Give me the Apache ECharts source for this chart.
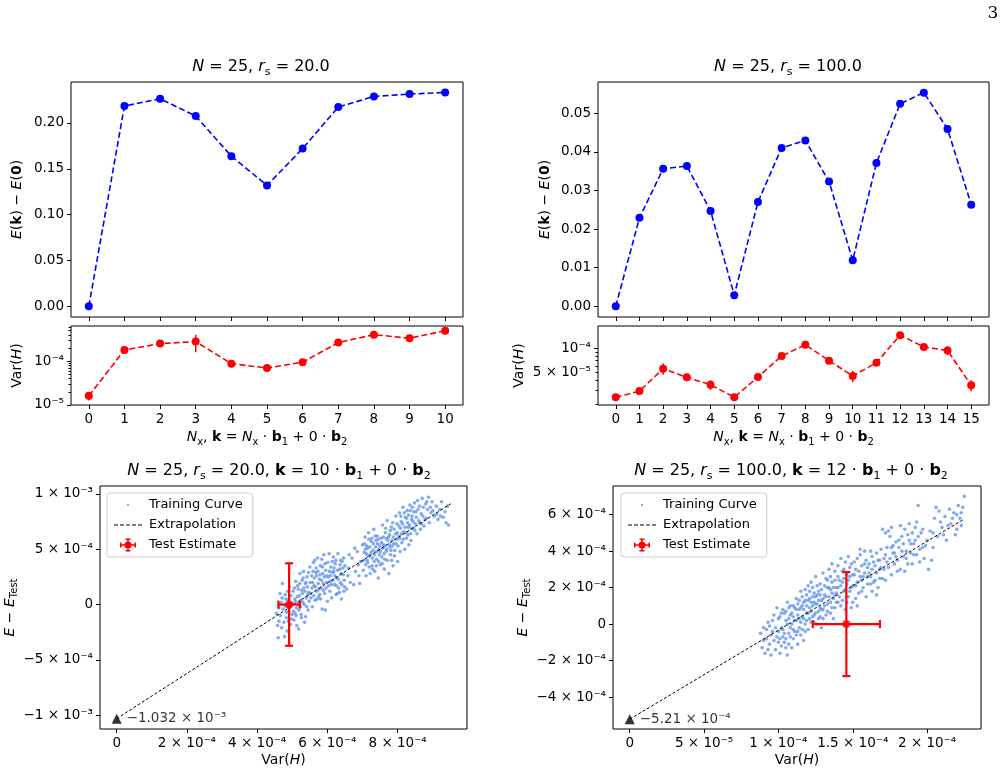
<!DOCTYPE html>
<html>
<head>
<meta charset="utf-8" />
<title>Excitation energies and variance extrapolation</title>
<script src="https://cdn.jsdelivr.net/npm/echarts@6.0.0/dist/echarts.min.js"></script>
<style>
  html, body { margin: 0; padding: 0; background: #fff; }
  #main { width: 1007px; height: 773px; }
</style>
</head>
<body>
<div id="main"></div>
<script type="text/javascript">
// ---------------- data ----------------
var kLeft = [0, 1, 2, 3, 4, 5, 6, 7, 8, 9, 10];
var gapLeft = [0, 0.2185, 0.2264, 0.2076, 0.1638, 0.1319, 0.1721, 0.2174, 0.2290, 0.2315, 0.2333];
var varLeft = [1.61e-5, 1.81e-4, 2.53e-4, 2.81e-4, 8.8e-5, 7.0e-5, 9.5e-5, 2.67e-4, 4.06e-4, 3.36e-4, 5.0e-4];
var varLeftErr = [0.35e-5, 1.0e-5, 1.5e-5, 1.2e-4, 0.5e-5, 0.4e-5, 0.5e-5, 1.8e-5, 2.5e-5, 2.2e-5, 3.2e-5];

var kRight = [0, 1, 2, 3, 4, 5, 6, 7, 8, 9, 10, 11, 12, 13, 14, 15];
var gapRight = [0, 0.0229, 0.0356, 0.0363, 0.0247, 0.0029, 0.0270, 0.0410, 0.0429, 0.0323, 0.0119, 0.0371, 0.0524, 0.0553, 0.0459, 0.0263];
var varRight = [2.43e-5, 2.91e-5, 5.55e-5, 4.32e-5, 3.49e-5, 2.43e-5, 4.36e-5, 8.0e-5, 1.11e-4, 7.0e-5, 4.49e-5, 6.6e-5, 1.46e-4, 1.04e-4, 9.4e-5, 3.43e-5];
var varRightErr = [0.15e-5, 0.2e-5, 0.9e-5, 0.3e-5, 0.5e-5, 0.15e-5, 0.4e-5, 0.5e-5, 0.8e-5, 0.6e-5, 0.72e-5, 0.4e-5, 0.8e-5, 0.5e-5, 1.2e-5, 0.54e-5];

// training curve samples, [Var(H), E - E_Test] in units of 1e-4
var trainLeft = [
  [4.55,-0.8],[4.6,-3.0],[4.62,-1.5],[4.68,0.2],[4.7,-2.1],[4.74,-0.4],[4.78,-2.9],[4.8,0.9],[4.83,-1.2],[4.85,-2.4],
  [4.88,0.4],[4.9,-0.6],[4.92,1.6],[4.95,-1.8],[4.97,0.1],[4.99,-0.9],[4.65,1.0],[4.72,1.9],[4.58,-1.9],[4.86,-0.2],
  [5.02,1.2],[5.05,-1.4],[5.07,0.5],[5.1,2.1],[5.12,-0.3],[5.15,1.7],[5.18,-2.2],[5.2,0.8],[5.22,2.8],[5.25,-0.9],
  [5.27,1.3],[5.3,0.2],[5.32,3.0],[5.35,-1.6],[5.37,1.9],[5.4,0.6],[5.42,2.5],[5.45,-0.5],[5.47,1.1],[5.5,3.4],
  [5.08,-0.8],[5.16,0.0],[5.28,2.2],[5.38,-1.1],[5.44,0.9],[5.13,-1.9],[5.33,1.5],[5.23,-0.2],
  [5.52,1.0],[5.55,2.6],[5.57,-0.2],[5.6,3.8],[5.62,1.7],[5.65,0.4],[5.67,2.9],[5.7,1.2],[5.72,4.2],[5.75,0.7],
  [5.77,2.3],[5.8,3.5],[5.82,1.5],[5.85,-0.4],[5.87,2.8],[5.9,4.5],[5.92,1.0],[5.95,3.1],[5.97,2.0],[6.0,0.3],
  [5.58,2.0],[5.68,3.3],[5.78,0.9],[5.88,1.9],[5.64,4.0],[5.84,4.1],[5.94,-0.5],[5.74,1.9],
  [6.02,2.5],[6.05,4.6],[6.07,1.2],[6.1,3.4],[6.12,0.6],[6.15,2.9],[6.17,4.3],[6.2,1.8],[6.22,3.7],[6.25,0.9],
  [6.27,2.4],[6.3,4.6],[6.32,1.5],[6.35,3.2],[6.37,2.0],[6.4,0.5],[6.42,3.9],[6.45,2.7],[6.47,1.2],[6.5,3.5],
  [6.08,2.1],[6.18,3.0],[6.28,1.0],[6.38,4.0],[6.48,2.2],
  [6.55,1.4],[6.6,3.3],[6.65,2.0],[6.7,4.2],[6.75,1.8],[6.8,3.0],[6.85,4.8],[6.9,2.6],[6.95,3.9],[7.0,5.4],
  [6.62,4.5],[6.78,5.1],[6.92,1.9],[6.58,2.6],[6.88,3.6],
  [7.02,3.1],[7.05,4.7],[7.07,6.1],[7.1,2.6],[7.12,5.3],[7.15,3.8],[7.17,6.5],[7.2,4.4],[7.22,2.8],[7.25,5.7],
  [7.27,3.5],[7.3,4.9],[7.32,6.8],[7.35,3.0],[7.37,5.2],[7.4,4.1],[7.42,6.2],[7.45,2.4],[7.47,5.0],[7.5,3.6],
  [7.08,5.0],[7.18,5.9],[7.28,4.2],[7.38,5.8],[7.48,4.5],[7.13,4.0],[7.33,3.9],[7.43,5.5],
  [7.52,6.0],[7.55,4.3],[7.57,7.2],[7.6,5.4],[7.62,3.2],[7.65,6.5],[7.67,4.8],[7.7,7.6],[7.72,5.8],[7.75,2.8],
  [7.77,6.3],[7.8,4.5],[7.82,7.0],[7.85,5.3],[7.87,3.5],[7.9,6.8],[7.92,4.9],[7.95,8.0],[7.97,5.9],[8.0,3.9],
  [7.58,5.1],[7.68,6.0],[7.78,5.2],[7.88,6.1],[7.98,7.3],[7.63,4.1],[7.83,4.0],
  [8.02,6.2],[8.05,8.3],[8.07,4.8],[8.1,7.5],[8.12,5.6],[8.15,8.8],[8.17,6.6],[8.2,5.0],[8.22,7.9],[8.25,6.0],
  [8.27,8.5],[8.3,7.0],[8.32,5.4],[8.35,9.0],[8.37,6.4],[8.4,7.7],[8.42,8.8],[8.45,6.9],[8.48,9.2],[8.5,7.3],
  [8.08,6.9],[8.28,7.4],[8.38,5.8],
  [8.52,8.4],[8.55,6.4],[8.57,9.4],[8.6,7.6],[8.62,8.9],[8.65,6.8],[8.7,9.6],[8.72,8.0],[8.75,7.1],[8.8,9.1],
  [8.82,7.8],[8.85,8.6],[8.88,9.7],[8.9,7.4],[8.95,8.3],[8.98,9.3],[8.68,7.3],
  [9.05,8.0],[9.1,8.9],[9.15,7.7],[9.2,8.6],[9.25,9.3],[9.3,7.9],[9.35,8.4],[9.38,7.4],[9.42,8.9],[9.45,7.2],
  [4.62,-0.3],[4.66,-1.0],[4.71,0.6],[4.76,-1.6],[4.79,-0.1],[4.82,0.5],[4.84,-0.7],[4.87,1.2],[4.89,-1.5],[4.93,-0.3],
  [4.96,0.8],[4.98,-1.3],[5.01,0.1],[5.03,-0.6],[5.06,1.5],[5.09,0.3],[5.11,-1.0],[5.14,0.7],[5.17,1.4],[5.19,-0.5],
  [5.21,1.9],[5.24,0.4],[5.26,-1.2],[5.29,1.0],[5.31,2.4],[5.34,0.0],[5.36,1.2],[5.39,2.0],[5.41,-0.2],[5.43,1.6],
  [5.46,2.9],[5.48,0.3],[5.51,2.0],[5.53,0.6],[5.56,1.5],[5.59,3.0],[5.61,0.8],[5.63,2.4],[5.66,1.6],[5.69,2.6],
  [5.71,0.5],[5.73,3.0],[5.76,1.4],[5.79,2.7],[5.81,0.5],[5.83,2.2],[5.86,3.4],[5.89,1.3],[5.91,2.5],[5.93,3.7],
  [5.96,1.5],[5.98,2.6],[6.01,3.8],[6.03,1.7],[6.06,3.0],[6.09,2.6],[6.11,1.8],[6.14,3.9],[6.16,2.2],[6.19,3.3],
  [6.21,2.6],[6.24,4.0],[6.26,1.7],[6.29,3.1],[6.31,2.3],[6.34,1.1],[6.36,3.6],[6.39,2.8],[6.41,1.8],[6.44,3.3],
  [6.46,4.2],[6.49,1.6],
  [7.03,4.0],[7.06,5.5],[7.09,3.6],[7.11,4.6],[7.14,5.1],[7.16,4.4],[7.19,3.4],[7.21,5.2],[7.24,4.7],[7.26,6.0],
  [7.29,3.2],[7.31,5.5],[7.34,4.5],[7.36,6.2],[7.39,3.5],[7.41,4.8],[7.44,5.9],[7.46,3.9],[7.49,5.3],[7.51,4.8],
  [7.54,5.6],[7.56,3.7],[7.59,6.1],[7.61,4.6],[7.64,5.3],[7.66,6.9],[7.69,5.0],[7.71,4.0],[7.74,6.1],[7.76,5.4],
  [7.79,6.7],[7.81,4.9],[7.84,5.8],[7.86,7.4],[7.89,5.5],[7.91,4.4],[7.94,6.4],[7.96,5.5],[7.99,6.5],[8.01,5.3],
  [8.04,7.1],[8.06,6.0],[8.09,8.0],[8.11,6.4],[8.14,7.3],[8.16,5.9],[8.19,8.3],[8.21,7.0],[8.24,6.5],[8.26,7.8],
  [8.29,6.3],[8.31,8.1],[8.34,7.2],[8.36,8.5],[8.39,6.9],[8.41,8.0],[8.44,7.5],[8.46,8.4],[8.49,6.7],[8.53,7.9],
  [8.58,8.6],[8.63,7.4],[8.67,8.2],[8.73,8.8],[8.78,7.7],[8.83,9.3],[8.93,8.8],[9.0,8.5],[9.12,8.2],[9.22,8.0]
];
var trainRight = [
  [0.88,-0.5],[0.89,-1.3],[0.9,-0.2],[0.91,-1.6],[0.92,-0.8],[0.93,0.1],[0.94,-1.1],[0.95,-1.7],[0.96,-0.4],[0.97,0.5],
  [0.98,-1.4],[0.99,-0.7],[1.0,0.3],[0.94,-0.1],[0.97,-0.9],[0.99,0.9],
  [1.01,-1.6],[1.02,-0.2],[1.03,0.8],[1.04,-1.0],[1.05,0.2],[1.06,-1.7],[1.06,1.2],[1.07,-0.5],[1.08,0.5],[1.09,-1.3],
  [1.1,1.0],[1.01,0.4],[1.03,-0.7],[1.05,-1.3],[1.07,0.9],[1.08,-0.2],[1.09,0.0],[1.1,-0.8],[1.04,0.6],[1.02,-1.2],
  [1.11,-0.4],[1.12,1.4],[1.12,0.2],[1.13,-1.1],[1.14,0.8],[1.15,1.8],[1.15,-0.6],[1.16,0.4],[1.17,1.2],[1.17,-0.9],
  [1.18,0.0],[1.19,1.6],[1.19,0.6],[1.2,2.1],[1.2,-0.3],[1.13,0.5],[1.16,1.0],[1.18,1.9],[1.14,-0.2],[1.11,0.9],
  [1.21,0.9],[1.22,2.3],[1.22,0.1],[1.23,1.5],[1.24,0.5],[1.25,2.6],[1.25,1.1],[1.26,0.0],[1.27,1.8],[1.27,0.7],
  [1.28,2.2],[1.29,1.3],[1.29,-0.2],[1.3,2.8],[1.3,0.8],[1.23,2.0],[1.24,1.2],[1.26,1.6],[1.28,0.4],[1.21,1.4],
  [1.31,1.6],[1.32,0.5],[1.32,2.5],[1.33,1.1],[1.34,3.0],[1.35,1.9],[1.35,0.6],[1.36,2.3],[1.37,1.4],[1.38,2.9],
  [1.38,0.9],[1.39,2.0],[1.4,3.2],[1.4,1.2],[1.33,2.0],[1.36,3.3],[1.37,0.3],[1.39,1.7],
  [1.41,2.4],[1.42,1.0],[1.43,2.9],[1.44,1.8],[1.45,3.4],[1.45,0.8],[1.46,2.2],[1.47,1.5],[1.48,3.1],[1.49,2.0],
  [1.5,1.2],[1.5,2.7],[1.42,3.6],[1.47,3.7],[1.44,2.5],[1.49,0.9],
  [1.51,3.4],[1.52,2.1],[1.53,1.0],[1.54,2.9],[1.55,3.8],[1.56,1.8],[1.57,2.6],[1.58,4.0],[1.59,1.5],[1.6,3.1],
  [1.53,3.6],[1.56,2.4],[1.58,3.3],[1.52,1.4],[1.6,2.2],[1.55,4.1],
  [1.61,2.8],[1.62,4.0],[1.63,1.8],[1.64,3.4],[1.65,2.4],[1.66,3.9],[1.67,2.0],[1.68,3.0],[1.69,4.1],[1.7,2.5],
  [1.63,3.7],[1.66,1.6],[1.68,3.5],[1.62,2.2],[1.7,5.2],[1.72,5.0],
  [1.71,3.6],[1.72,2.4],[1.73,4.2],[1.74,3.1],[1.75,4.8],[1.76,2.7],[1.77,3.9],[1.78,3.3],[1.79,4.5],[1.8,2.9],
  [1.74,5.1],[1.77,4.3],[1.79,3.7],[1.76,5.3],
  [1.81,4.2],[1.82,3.0],[1.83,4.8],[1.84,3.7],[1.85,5.2],[1.86,4.0],[1.87,3.3],[1.88,4.6],[1.9,5.0],[1.89,3.9],
  [1.85,2.9],[1.9,3.3],[1.82,5.4],[1.88,5.5],
  [1.91,4.4],[1.92,5.3],[1.93,3.8],[1.94,4.8],[1.95,3.4],[1.96,5.0],[1.97,4.2],[1.98,3.6],[2.0,4.6],[1.93,5.6],
  [1.94,6.5],[2.01,3.0],[2.03,3.5],
  [2.02,5.1],[2.04,4.2],[2.05,5.8],[2.07,4.8],[2.08,6.2],[2.1,5.3],[2.12,5.9],[2.13,4.6],[2.15,6.3],[2.16,5.5],
  [2.18,6.1],[2.2,5.2],[2.21,6.5],[2.22,5.8],[2.24,6.4],[2.25,7.0],[2.23,5.4],[2.19,4.9],[2.06,6.4],[2.2,6.0],
  [0.9,-0.9],[0.92,-0.3],[0.93,-1.4],[0.95,-0.6],[0.96,0.2],[0.98,-0.2],[1.0,-1.0],[1.0,-0.4],[1.01,-0.8],[1.02,0.6],
  [1.03,-0.3],[1.04,-0.5],[1.05,0.7],[1.05,-0.8],[1.06,0.0],[1.07,-1.1],[1.07,0.3],[1.08,1.0],[1.08,-0.7],[1.09,0.6],
  [1.1,-0.3],[1.1,0.4],[1.11,0.2],[1.12,-0.6],[1.12,0.8],[1.13,1.1],[1.13,-0.4],[1.14,0.3],[1.14,1.3],[1.15,0.1],
  [1.15,0.9],[1.16,-0.3],[1.16,1.5],[1.17,0.3],[1.17,0.8],[1.18,-0.4],[1.18,1.3],[1.19,0.2],[1.19,1.0],[1.2,0.6],
  [1.2,1.3],[1.21,0.3],[1.21,1.8],[1.22,0.7],[1.22,1.2],[1.23,0.4],[1.23,1.0],[1.24,1.7],[1.24,0.1],[1.25,0.6],
  [1.25,1.5],[1.26,1.1],[1.26,2.1],[1.27,1.3],[1.27,0.3],[1.28,1.6],[1.28,0.9],[1.29,1.9],[1.29,0.8],[1.3,1.4],
  [1.3,0.3],[1.31,2.1],[1.31,1.0],[1.32,1.5],[1.33,0.7],[1.33,2.4],[1.34,1.5],[1.34,2.0],[1.35,1.2],[1.35,2.6],
  [1.36,1.7],[1.36,0.9],[1.37,2.0],[1.38,1.6],[1.38,2.4],[1.39,1.2],[1.4,2.0],[1.4,2.6],[1.41,1.5],[1.42,2.1],
  [1.43,1.3],[1.43,2.3],[1.44,3.0],[1.45,1.9],[1.46,2.7],[1.46,1.2],[1.47,2.4],[1.48,1.8],[1.48,2.6],[1.49,3.3],
  [1.5,2.1],[1.51,2.7],[1.52,3.0],[1.53,2.3],[1.54,1.7],[1.55,2.6],[1.56,3.2],[1.57,2.0],[1.58,2.8],[1.59,3.5],
  [1.6,2.6],[1.61,3.3],[1.62,2.6],[1.63,3.0],[1.64,2.3],[1.65,3.2],[1.66,2.8],[1.67,3.5],[1.68,2.5],[1.69,3.1],
  [1.71,3.0],[1.72,3.8],[1.73,3.4],[1.75,3.6],[1.76,4.2],[1.78,3.9],[1.8,3.5],[1.81,4.6],[1.83,4.0],[1.84,4.4],
  [1.86,3.6],[1.87,4.9],[1.89,4.4],[1.91,3.8],[1.92,4.6],[1.95,4.1],[1.97,5.2],[1.99,4.3],[2.04,5.0],[2.09,5.6],
  [2.11,4.9],[2.14,5.4],[2.17,5.8],[2.23,6.1]
];

// [Var(H), E - E_Test, xerr, yerr]
var testLeft = [4.91e-4, 0, 3.05e-5, 3.73e-4];
var testRight = [1.457e-4, 0, 2.26e-5, 2.85e-4];
// extrapolation line end points and the zero-variance intercept
var extrapLeft = [[0, -1.032e-3], [9.51e-4, 9.12e-4]];
var extrapRight = [[0, -5.21e-4], [2.248e-4, 5.75e-4]];
var interceptLeftLabel = '−1.032 × 10⁻³';
var interceptRightLabel = '−5.21 × 10⁻⁴';

// tick values and labels
var gapLeftTicks = [0, 0.05, 0.1, 0.15, 0.2];
var gapLeftLabels = ['0.00', '0.05', '0.10', '0.15', '0.20'];
var gapRightTicks = [0, 0.01, 0.02, 0.03, 0.04, 0.05];
var gapRightLabels = ['0.00', '0.01', '0.02', '0.03', '0.04', '0.05'];
var varLeftTicks = [1e-5, 1e-4];
var varLeftLabels = ['10⁻⁵', '10⁻⁴'];
var varLeftMinor = [2e-5, 3e-5, 4e-5, 5e-5, 6e-5, 7e-5, 8e-5, 9e-5, 2e-4, 3e-4, 4e-4, 5e-4, 6e-4];
var varRightTicks = [1e-4];
var varRightLabelTicks = [5e-5, 1e-4];
var varRightLabels = ['5 × 10⁻⁵', '10⁻⁴'];
var varRightMinor = [2e-5, 3e-5, 4e-5, 5e-5, 6e-5, 7e-5, 8e-5, 9e-5];
var blXTicks = [0, 2e-4, 4e-4, 6e-4, 8e-4];
var blXLabels = ['0', '2 × 10⁻⁴', '4 × 10⁻⁴', '6 × 10⁻⁴', '8 × 10⁻⁴'];
var blYTicks = [-1e-3, -5e-4, 0, 5e-4, 1e-3];
var blYLabels = ['−1 × 10⁻³', '−5 × 10⁻⁴', '0', '5 × 10⁻⁴', '1 × 10⁻³'];
var brXTicks = [0, 5e-5, 1e-4, 1.5e-4, 2e-4];
var brXLabels = ['0', '5 × 10⁻⁵', '1 × 10⁻⁴', '1.5 × 10⁻⁴', '2 × 10⁻⁴'];
var brYTicks = [-4e-4, -2e-4, 0, 2e-4, 4e-4, 6e-4];
var brYLabels = ['−4 × 10⁻⁴', '−2 × 10⁻⁴', '0', '2 × 10⁻⁴', '4 × 10⁻⁴', '6 × 10⁻⁴'];

// ---------------- helpers ----------------
var FONT = 'DejaVu Sans';

function mathRich(size) {
  var lh = Math.round(size * 1.35);
  var sub = Math.round(size * 0.7);
  return {
    it: {fontStyle: 'italic', fontSize: size, lineHeight: lh, fontFamily: FONT, color: '#000', fill: '#000'},
    bf: {fontWeight: 'bold', fontSize: size, lineHeight: lh, fontFamily: FONT, color: '#000', fill: '#000'},
    sub: {fontSize: sub, lineHeight: sub, verticalAlign: 'bottom', fontFamily: FONT, color: '#000', fill: '#000'}
  };
}

function nameStyle(size) {
  return {color: '#000', fontSize: size, fontFamily: FONT, lineHeight: Math.round(size * 1.35), rich: mathRich(size)};
}

function labelFor(ticks, labels) {
  return function (v) {
    for (var i = 0; i < ticks.length; i++) {
      if (Math.abs(v - ticks[i]) <= Math.abs(ticks[i]) * 1e-6 + 1e-15) return labels[i];
    }
    return '';
  };
}

function makeAxis(o) {
  return {
    type: o.type || 'value',
    gridIndex: o.grid,
    position: o.position,
    min: o.min,
    max: o.max,
    axisLine: {show: false, onZero: false},
    splitLine: {show: false},
    axisTick: {show: true, length: o.tickLen || 4, customValues: o.ticks, lineStyle: {color: '#000', width: 1}},
    axisLabel: o.labels ? {
      show: true, customValues: o.labelTicks || o.ticks, formatter: labelFor(o.labelTicks || o.ticks, o.labels),
      color: '#000', fontSize: 13.5, fontFamily: FONT, margin: 7
    } : {show: false},
    name: o.name || '',
    nameLocation: 'middle',
    nameGap: o.gap || 0,
    nameRotate: o.rotate,
    nameTextStyle: nameStyle(14)
  };
}

function pairs(xs, ys) {
  return xs.map(function (x, i) { return [x, ys[i]]; });
}
function triples(xs, ys, es) {
  return xs.map(function (x, i) { return [x, ys[i], es[i]]; });
}
function scaled(pts) {
  return pts.map(function (p) { return [p[0] * 1e-4, p[1] * 1e-4]; });
}

function vErrItem(color) {
  return function (params, api) {
    var x = api.value(0), y = api.value(1), e = api.value(2);
    var p1 = api.coord([x, y + e]);
    var p2 = api.coord([x, y - e]);
    return {type: 'line', shape: {x1: p1[0], y1: p1[1], x2: p2[0], y2: p2[1]}, style: {stroke: color, lineWidth: 1.5}};
  };
}

function crossItem(params, api) {
  var x = api.value(0), y = api.value(1), ex = api.value(2), ey = api.value(3);
  var t = api.coord([x, y + ey]), b = api.coord([x, y - ey]);
  var l = api.coord([x - ex, y]), r = api.coord([x + ex, y]);
  var c = 4;
  var st = {stroke: '#ff0000', lineWidth: 2.2};
  function seg(x1, y1, x2, y2) {
    return {type: 'line', shape: {x1: x1, y1: y1, x2: x2, y2: y2}, style: st};
  }
  return {type: 'group', children: [
    seg(t[0], t[1], b[0], b[1]),
    seg(l[0], l[1], r[0], r[1]),
    seg(t[0] - c, t[1], t[0] + c, t[1]),
    seg(b[0] - c, b[1], b[0] + c, b[1]),
    seg(l[0], l[1] - c, l[0], l[1] + c),
    seg(r[0], r[1] - c, r[0], r[1] + c)
  ]};
}

function gridBox(left, top, width, height) {
  return {left: left, top: top, width: width, height: height, show: true, borderColor: '#000', borderWidth: 1,
    backgroundColor: 'transparent', containLabel: false, outerBoundsMode: 'none'};
}

function titleText(x, y, text) {
  return {type: 'text', x: x, y: y, z: 100, style: {
    text: text, rich: mathRich(16), fontSize: 16, fontFamily: FONT, fill: '#000', lineHeight: 22,
    align: 'center', verticalAlign: 'middle'
  }};
}

var dotIcon = 'path://M0,0M32,14M15,6h2v2h-2z';
var dashIcon = 'path://M0,0M32,14M2,6.4h4v1.2h-4zM8,6.4h4v1.2h-4zM14,6.4h4v1.2h-4zM20,6.4h4v1.2h-4zM26,6.4h4v1.2h-4z';
var errIcon = 'path://M0,0M32,14M8,6.2h16v1.6h-16zM15.2,0.5h1.6v13h-1.6zM8,4.5h1.6v5h-1.6zM22.4,4.5h1.6v5h-1.6z' +
  'M13.5,0.5h5v1.6h-5zM13.5,11.9h5v1.6h-5zM12.5,7a3.5,3.5 0 1,1 7,0a3.5,3.5 0 1,1 -7,0z';

function legendBox(left, top) {
  return {
    left: left, top: top, orient: 'vertical', selectedMode: false,
    itemWidth: 32, itemHeight: 14, itemGap: 6, padding: [5, 10, 5, 5],
    borderColor: '#cccccc', borderWidth: 1, borderRadius: 3, backgroundColor: 'rgba(255,255,255,0.8)',
    textStyle: {color: '#000', fontSize: 13, fontFamily: FONT},
    data: [
      {name: 'Training Curve', icon: dotIcon},
      {name: 'Extrapolation', icon: dashIcon},
      {name: 'Test Estimate', icon: errIcon}
    ]
  };
}

var gapName = '{it|E}({bf|k}) − {it|E}({bf|0})';
var varName = 'Var({it|H})';
var nxName = '{it|N}{sub|x}, {bf|k} = {it|N}{sub|x} · {bf|b}{sub|1} + 0 · {bf|b}{sub|2}';
var diffName = '{it|E} − {it|E}{sub|Test}';

// ---------------- chart ----------------
var myChart = echarts.init(document.getElementById('main'));

var option = {
  animation: false,
  backgroundColor: '#fff',
  textStyle: {fontFamily: FONT},
  grid: [
    gridBox(71, 82, 392, 235),
    gridBox(71, 326, 392, 79),
    gridBox(598, 82, 391, 235),
    gridBox(598, 326, 391, 79),
    gridBox(100, 486, 367, 243),
    gridBox(613, 486, 368, 243)
  ],
  xAxis: [
    makeAxis({grid: 0, min: -0.5, max: 10.5, ticks: kLeft}),
    makeAxis({grid: 1, min: -0.5, max: 10.5, ticks: kLeft, labels: kLeft.map(String), name: nxName, gap: 23}),
    makeAxis({grid: 2, min: -0.75, max: 15.75, ticks: kRight}),
    makeAxis({grid: 3, min: -0.75, max: 15.75, ticks: kRight, labels: kRight.map(String), name: nxName, gap: 23}),
    makeAxis({grid: 4, min: -4.75e-5, max: 9.975e-4, ticks: blXTicks, labels: blXLabels, name: varName, gap: 21}),
    makeAxis({grid: 5, min: -1.125e-5, max: 2.3625e-4, ticks: brXTicks, labels: brXLabels, name: varName, gap: 21})
  ],
  yAxis: [
    makeAxis({grid: 0, position: 'left', min: -0.0117, max: 0.2447, ticks: gapLeftTicks, labels: gapLeftLabels, name: gapName, gap: 44, rotate: 90}),
    makeAxis({grid: 1, position: 'left', type: 'log', min: 9.95e-6, max: 6.4e-4, ticks: varLeftTicks, labels: varLeftLabels, name: varName, gap: 44, rotate: 90}),
    makeAxis({grid: 2, position: 'left', min: -0.00276, max: 0.05805, ticks: gapRightTicks, labels: gapRightLabels, name: gapName, gap: 43, rotate: 90}),
    makeAxis({grid: 3, position: 'left', type: 'log', min: 1.944e-5, max: 1.905e-4, ticks: varRightTicks, labelTicks: varRightLabelTicks, labels: varRightLabels, name: varName, gap: 43, rotate: 90}),
    makeAxis({grid: 4, position: 'left', min: -1.1256e-3, max: 1.0723e-3, ticks: blYTicks, labels: blYLabels, name: diffName, gap: 77, rotate: 90}),
    makeAxis({grid: 5, position: 'left', min: -5.75e-4, max: 7.57e-4, ticks: brYTicks, labels: brYLabels, name: diffName, gap: 78, rotate: 90}),
    // minor log ticks
    makeAxis({grid: 1, position: 'left', type: 'log', min: 9.95e-6, max: 6.4e-4, ticks: varLeftMinor, tickLen: 2.5}),
    makeAxis({grid: 3, position: 'left', type: 'log', min: 1.944e-5, max: 1.905e-4, ticks: varRightMinor, tickLen: 2.5})
  ],
  legend: [legendBox(107, 493), legendBox(621, 493)],
  graphic: [
    titleText(261, 67, '{it|N} = 25, {it|r}{sub|s} = 20.0'),
    titleText(788, 67, '{it|N} = 25, {it|r}{sub|s} = 100.0'),
    titleText(279, 471, '{it|N} = 25, {it|r}{sub|s} = 20.0, {bf|k} = 10 · {bf|b}{sub|1} + 0 · {bf|b}{sub|2}'),
    titleText(791, 471, '{it|N} = 25, {it|r}{sub|s} = 100.0, {bf|k} = 12 · {bf|b}{sub|1} + 0 · {bf|b}{sub|2}'),
    {type: 'text', x: 993, y: 14, style: {text: '3', fontSize: 17, fontFamily: 'DejaVu Serif', fill: '#000', align: 'center', verticalAlign: 'middle'}}
  ],
  series: [
    {type: 'line', xAxisIndex: 0, yAxisIndex: 0, data: pairs(kLeft, gapLeft), symbol: 'circle', symbolSize: 8,
      itemStyle: {color: '#0000ff'}, lineStyle: {color: '#0000ff', width: 1.6, type: [6, 3]}, z: 3},
    {type: 'custom', xAxisIndex: 1, yAxisIndex: 1, data: triples(kLeft, varLeft, varLeftErr),
      encode: {x: 0, y: 1}, renderItem: vErrItem('#ff0000'), z: 2},
    {type: 'line', xAxisIndex: 1, yAxisIndex: 1, data: pairs(kLeft, varLeft), symbol: 'circle', symbolSize: 8,
      itemStyle: {color: '#ff0000'}, lineStyle: {color: '#ff0000', width: 1.6, type: [6, 3]}, z: 3},
    {type: 'line', xAxisIndex: 2, yAxisIndex: 2, data: pairs(kRight, gapRight), symbol: 'circle', symbolSize: 8,
      itemStyle: {color: '#0000ff'}, lineStyle: {color: '#0000ff', width: 1.6, type: [6, 3]}, z: 3},
    {type: 'custom', xAxisIndex: 3, yAxisIndex: 3, data: triples(kRight, varRight, varRightErr),
      encode: {x: 0, y: 1}, renderItem: vErrItem('#ff0000'), z: 2},
    {type: 'line', xAxisIndex: 3, yAxisIndex: 3, data: pairs(kRight, varRight), symbol: 'circle', symbolSize: 8,
      itemStyle: {color: '#ff0000'}, lineStyle: {color: '#ff0000', width: 1.6, type: [6, 3]}, z: 3},

    // bottom left
    {name: 'Training Curve', type: 'scatter', xAxisIndex: 4, yAxisIndex: 4, data: scaled(trainLeft),
      symbolSize: 3.6, itemStyle: {color: '#6495ed'}, z: 2},
    {name: 'Extrapolation', type: 'line', xAxisIndex: 4, yAxisIndex: 4, data: extrapLeft, symbol: 'none',
      color: '#000', lineStyle: {color: '#000', width: 1, type: [3, 2]}, z: 3},
    {name: 'Test Estimate', type: 'custom', xAxisIndex: 4, yAxisIndex: 4, data: [testLeft], encode: {x: 0, y: 1},
      renderItem: crossItem, itemStyle: {color: '#ff0000'}, z: 4},
    {name: 'Test Estimate', type: 'scatter', xAxisIndex: 4, yAxisIndex: 4, data: [[testLeft[0], testLeft[1]]],
      symbolSize: 8, itemStyle: {color: '#ff0000'}, z: 5},
    {type: 'scatter', xAxisIndex: 4, yAxisIndex: 4, data: [extrapLeft[0]], symbol: 'triangle', symbolSize: 10,
      itemStyle: {color: '#000'}, z: 6,
      label: {show: true, position: 'right', distance: 5, formatter: interceptLeftLabel, color: '#000', fontSize: 13.5, fontFamily: FONT}},

    // bottom right
    {name: 'Training Curve', type: 'scatter', xAxisIndex: 5, yAxisIndex: 5, data: scaled(trainRight),
      symbolSize: 3.6, itemStyle: {color: '#6495ed'}, z: 2},
    {name: 'Extrapolation', type: 'line', xAxisIndex: 5, yAxisIndex: 5, data: extrapRight, symbol: 'none',
      color: '#000', lineStyle: {color: '#000', width: 1, type: [3, 2]}, z: 3},
    {name: 'Test Estimate', type: 'custom', xAxisIndex: 5, yAxisIndex: 5, data: [testRight], encode: {x: 0, y: 1},
      renderItem: crossItem, itemStyle: {color: '#ff0000'}, z: 4},
    {name: 'Test Estimate', type: 'scatter', xAxisIndex: 5, yAxisIndex: 5, data: [[testRight[0], testRight[1]]],
      symbolSize: 8, itemStyle: {color: '#ff0000'}, z: 5},
    {type: 'scatter', xAxisIndex: 5, yAxisIndex: 5, data: [extrapRight[0]], symbol: 'triangle', symbolSize: 10,
      itemStyle: {color: '#000'}, z: 6,
      label: {show: true, position: 'right', distance: 5, formatter: interceptRightLabel, color: '#000', fontSize: 13.5, fontFamily: FONT}}
  ]
};

myChart.setOption(option);
</script>
</body>
</html>
